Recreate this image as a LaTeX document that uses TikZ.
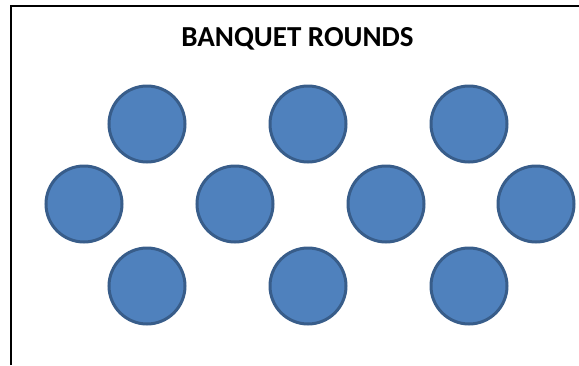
\documentclass[tikz,border=0pt]{standalone}
\usepackage{fontspec}
\setmainfont{Carlito}
\definecolor{tablefill}{HTML}{4F81BD}
\definecolor{tableline}{HTML}{385D8A}
\tikzset{
  roundtable/.style={circle, draw=tableline, fill=tablefill, line width=3pt, minimum size=76pt, inner sep=0pt},
  title/.style={font=\fontsize{29}{29}\selectfont\bfseries, inner sep=0pt, anchor=base}
}
\begin{document}
\begin{tikzpicture}[x=1pt, y=-1pt]
    \useasboundingbox (0,0) rectangle (579,365);

    % Draw frame
    \draw[line width=2pt] (11,365) -- (11,6) -- (579,6);

    % Title
    \node[title] (heading) at (297.5,46) {BANQUET ROUNDS};

    % Draw tables, top row
    \node[roundtable] (t1) at (147,124) {};
    \node[roundtable] (t2) at (308,124) {};
    \node[roundtable] (t3) at (469,124) {};

    % Middle row
    \node[roundtable] (t4) at (84,204) {};
    \node[roundtable] (t5) at (235,204) {};
    \node[roundtable] (t6) at (386,204) {};
    \node[roundtable] (t7) at (536,204) {};

    % Bottom row
    \node[roundtable] (t8) at (147,286) {};
    \node[roundtable] (t9) at (308,286) {};
    \node[roundtable] (t10) at (469,286) {};
\end{tikzpicture}
\end{document}
